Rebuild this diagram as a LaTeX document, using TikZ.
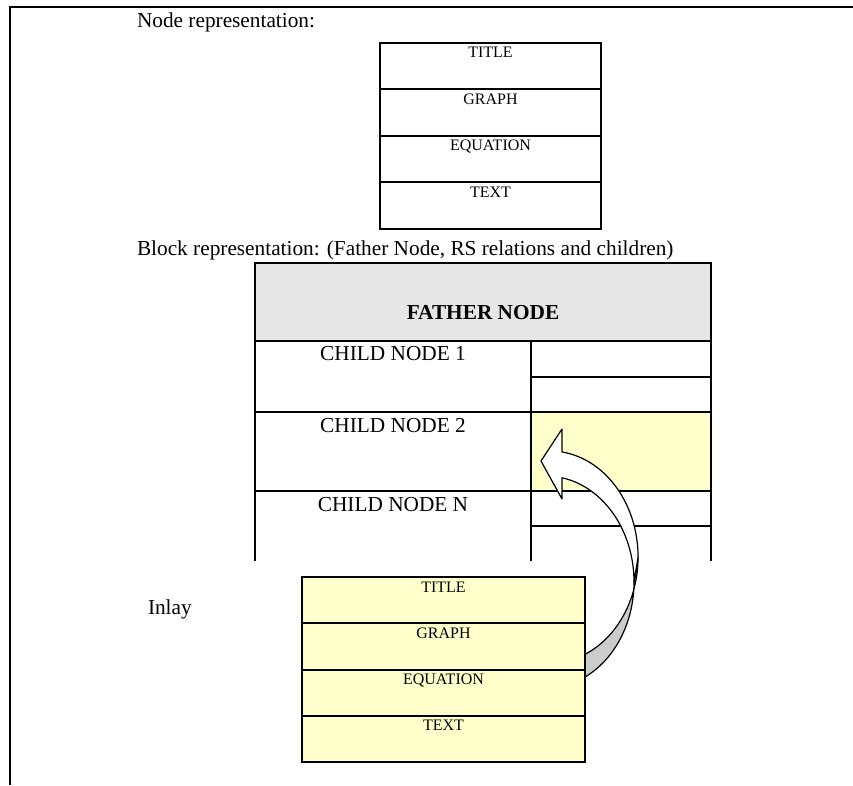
\documentclass[tikz,border=0pt]{standalone}
\usepackage{fontspec}
\setmainfont{Liberation Serif}
\definecolor{paleyellow}{HTML}{FFFFCC}
\definecolor{headgray}{HTML}{E6E6E6}
\definecolor{backface}{HTML}{CCCCCC}
\begin{document}
\begin{tikzpicture}[x=1pt,y=-1pt,line width=2pt,
  cell/.style={draw=black,line width=2pt,inner sep=0pt,outer sep=0pt,anchor=north west},
  bare/.style={inner sep=0pt,outer sep=0pt,anchor=north west},
  small/.style={font=\fontsize{16}{19}\selectfont,inner sep=0pt,anchor=base},
  big/.style={font=\fontsize{21.3}{25}\selectfont,inner sep=0pt,anchor=base},
  bigleft/.style={big,anchor=base west},
  arrowline/.style={draw=black,line width=1.2pt,line join=round},
  noderow/.style={cell,minimum width=221pt,minimum height=46.5pt},
  inlayrow/.style={cell,fill=paleyellow,minimum width=283pt,minimum height=46.25pt}
]
\useasboundingbox (0,0) rectangle (853,785);
\fill[white] (0,0) rectangle (853,785);

% page frame (top and left edges)
\coordinate (frameTL) at (10,7);
\coordinate (frameTR) at (853,7);
\coordinate (frameBL) at (10,785);
\draw (frameTR) -- (frameTL) -- (frameBL);

% ---- node representation ----
\node[bigleft] (nodecap) at (136,27) {Node representation:};
\node[noderow] (n1) at (380,42.5) {};
\node[noderow] (n2) at (n1.south west) {};
\node[noderow] (n3) at (n2.south west) {};
\node[noderow] (n4) at (n3.south west) {};
\node[small] (n1t) at ([yshift=-15pt]n1.north) {TITLE};
\node[small] (n2t) at ([yshift=-15pt]n2.north) {GRAPH};
\node[small] (n3t) at ([yshift=-15pt]n3.north) {EQUATION};
\node[small] (n4t) at ([yshift=-15pt]n4.north) {TEXT};

% ---- block representation ----
\node[bigleft] (blockcap) at (136,255) {Block representation: (Father Node, RS relations and children)};
\node[cell,fill=headgray,minimum width=456pt,minimum height=78pt] (father) at (255,263) {};
\node[big,font=\fontsize{21.3}{25}\selectfont\bfseries] (fathert) at ([yshift=-56pt]father.north) {FATHER NODE};

% child 1
\node[cell,minimum width=276pt,minimum height=71pt] (c1) at (father.south west) {};
\node[cell,minimum width=180pt,minimum height=35.5pt] (c1a) at (c1.north east) {};
\node[cell,minimum width=180pt,minimum height=35.5pt] (c1b) at (c1a.south west) {};
\node[big] (c1t) at ([yshift=-19pt]c1.north) {CHILD NODE 1};

% child 2 (highlighted slot)
\node[cell,minimum width=276pt,minimum height=79pt] (c2) at (c1.south west) {};
\node[cell,fill=paleyellow,minimum width=180pt,minimum height=79pt] (c2a) at (c2.north east) {};
\node[big] (c2t) at ([yshift=-20pt]c2.north) {CHILD NODE 2};

% child N (open at the bottom)
\node[bare,minimum width=276pt,minimum height=70pt] (c3) at (c2.south west) {};
\node[cell,minimum width=180pt,minimum height=35pt] (c3a) at (c3.north east) {};
\node[bare,minimum width=180pt,minimum height=35pt] (c3b) at (c3a.south west) {};
\draw (c3.north west) -- (c3.south west);
\draw (c3.north east) -- (c3.south east);
\draw (c3b.north east) -- (c3b.south east);
\node[big] (c3t) at ([yshift=-20pt]c3.north) {CHILD NODE N};

% ---- curved arrow from the inlay into the slot ----
% back face of the band (lower part)
\draw[arrowline,fill=backface]
  (585,654.3) arc[start angle=66.6,end angle=0,x radius=88,y radius=106]
  -- (634,582) arc[start angle=0,end angle=63.7,x radius=88,y radius=106]
  -- cycle;
% front face of the band with the head
\draw[arrowline,fill=white]
  (562,452) arc[start angle=-82.2,end angle=0,x radius=88,y radius=106]
  -- (634,582) arc[start angle=0,end angle=-79.5,x radius=88,y radius=106]
  -- (562,499) -- (541,461) -- (562,429) -- cycle;

% ---- inlay ----
\node[bigleft] (inlaycap) at (147,614) {Inlay};
\node[inlayrow] (i1) at (302,577) {};
\node[inlayrow] (i2) at (i1.south west) {};
\node[inlayrow] (i3) at (i2.south west) {};
\node[inlayrow] (i4) at (i3.south west) {};
\node[small] (i1t) at ([yshift=-15pt]i1.north) {TITLE};
\node[small] (i2t) at ([yshift=-15pt]i2.north) {GRAPH};
\node[small] (i3t) at ([yshift=-15pt]i3.north) {EQUATION};
\node[small] (i4t) at ([yshift=-15pt]i4.north) {TEXT};
\end{tikzpicture}
\end{document}
